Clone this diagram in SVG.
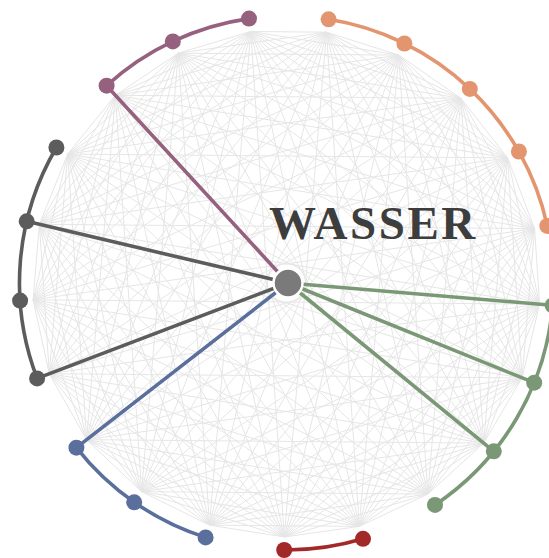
<svg xmlns="http://www.w3.org/2000/svg" width="549" height="558" viewBox="0 0 549 558">
<style>
.mesh{fill:none;stroke:#e6e6e6;stroke-width:1;stroke-linejoin:round}
.red{stroke:#a32828;fill:#a32828}
.blue{stroke:#5b6f9c;fill:#5b6f9c}
.gray{stroke:#5c5c5c;fill:#5c5c5c}
.purple{stroke:#95617f;fill:#95617f}
.orange{stroke:#e3956f;fill:#e3956f}
.green{stroke:#7a9875;fill:#7a9875}
path.arc{fill:none;stroke-width:3.6;stroke-linecap:round}
line.spoke{stroke-width:3.6;stroke-linecap:round}
g.node circle{stroke:none}
.title{font-family:"Liberation Serif","Times New Roman",serif;font-weight:bold;font-size:47px;fill:#3d3d3d;letter-spacing:2.6px}
</style>
<rect width="549" height="558" fill="#ffffff"/>
<g id="mesh" class="mesh">
<path d="M284.3,537 L209.5,525.1 141.6,491.6 86.6,439.7 49.3,373.7 33.1,299.8 39.4,224.3 67.7,154.1 115.4,95.3 178.3,53.2 250.8,31.5 326.5,32.2 398.7,55.1 460.9,98.3 507.6,157.9 534.6,228.6 539.6,304.2 522.1,377.9 483.7,443.1 427.8,494.1 359.3,526.4Z"/>
<path d="M284.3,537 L141.6,491.6 49.3,373.7 39.4,224.3 115.4,95.3 250.8,31.5 398.7,55.1 507.6,157.9 539.6,304.2 483.7,443.1 359.3,526.4 209.5,525.1 86.6,439.7 33.1,299.8 67.7,154.1 178.3,53.2 326.5,32.2 460.9,98.3 534.6,228.6 522.1,377.9 427.8,494.1Z"/>
<path d="M284.3,537 L86.6,439.7 39.4,224.3 178.3,53.2 398.7,55.1 534.6,228.6 483.7,443.1Z M209.5,525.1 L49.3,373.7 67.7,154.1 250.8,31.5 460.9,98.3 539.6,304.2 427.8,494.1Z M141.6,491.6 L33.1,299.8 115.4,95.3 326.5,32.2 507.6,157.9 522.1,377.9 359.3,526.4Z"/>
<path d="M284.3,537 L49.3,373.7 115.4,95.3 398.7,55.1 539.6,304.2 359.3,526.4 86.6,439.7 67.7,154.1 326.5,32.2 534.6,228.6 427.8,494.1 141.6,491.6 39.4,224.3 250.8,31.5 507.6,157.9 483.7,443.1 209.5,525.1 33.1,299.8 178.3,53.2 460.9,98.3 522.1,377.9Z"/>
<path d="M284.3,537 L33.1,299.8 250.8,31.5 534.6,228.6 359.3,526.4 49.3,373.7 178.3,53.2 507.6,157.9 427.8,494.1 86.6,439.7 115.4,95.3 460.9,98.3 483.7,443.1 141.6,491.6 67.7,154.1 398.7,55.1 522.1,377.9 209.5,525.1 39.4,224.3 326.5,32.2 539.6,304.2Z"/>
<path d="M284.3,537 L39.4,224.3 398.7,55.1 483.7,443.1 86.6,439.7 178.3,53.2 534.6,228.6Z M209.5,525.1 L67.7,154.1 460.9,98.3 427.8,494.1 49.3,373.7 250.8,31.5 539.6,304.2Z M141.6,491.6 L115.4,95.3 507.6,157.9 359.3,526.4 33.1,299.8 326.5,32.2 522.1,377.9Z"/>
<path d="M284.3,537 L67.7,154.1 507.6,157.9Z M209.5,525.1 L115.4,95.3 534.6,228.6Z M141.6,491.6 L178.3,53.2 539.6,304.2Z M86.6,439.7 L250.8,31.5 522.1,377.9Z M49.3,373.7 L326.5,32.2 483.7,443.1Z M33.1,299.8 L398.7,55.1 427.8,494.1Z M39.4,224.3 L460.9,98.3 359.3,526.4Z"/>
<path d="M284.3,537 L115.4,95.3 539.6,304.2 86.6,439.7 326.5,32.2 427.8,494.1 39.4,224.3 507.6,157.9 209.5,525.1 178.3,53.2 522.1,377.9 49.3,373.7 398.7,55.1 359.3,526.4 67.7,154.1 534.6,228.6 141.6,491.6 250.8,31.5 483.7,443.1 33.1,299.8 460.9,98.3Z"/>
<path d="M284.3,537 L178.3,53.2 483.7,443.1 39.4,224.3 534.6,228.6 86.6,439.7 398.7,55.1Z M209.5,525.1 L250.8,31.5 427.8,494.1 67.7,154.1 539.6,304.2 49.3,373.7 460.9,98.3Z M141.6,491.6 L326.5,32.2 359.3,526.4 115.4,95.3 522.1,377.9 33.1,299.8 507.6,157.9Z"/>
<path d="M284.3,537 L250.8,31.5 359.3,526.4 178.3,53.2 427.8,494.1 115.4,95.3 483.7,443.1 67.7,154.1 522.1,377.9 39.4,224.3 539.6,304.2 33.1,299.8 534.6,228.6 49.3,373.7 507.6,157.9 86.6,439.7 460.9,98.3 141.6,491.6 398.7,55.1 209.5,525.1 326.5,32.2Z"/>
</g>
<text id="title" class="title" x="269" y="239">WASSER</text>
<g id="connectors">
<path class="arc red" d="M363,538.8 A267,267 0 0 1 284.2,550"/>
<path class="arc blue" d="M205.6,537.4 A267,267 0 0 1 76.4,447.7"/>
<path class="arc gray" d="M37.1,378.4 A267,267 0 0 1 56.4,147.5"/>
<path class="arc purple" d="M106.6,85.7 A267,267 0 0 1 249,18.6"/>
<path class="arc orange" d="M328.6,19.3 A267,267 0 0 1 547.3,225.9"/>
<path class="arc green" d="M552.6,305.3 A267,267 0 0 1 435,504.9"/>
<line class="spoke blue" x1="288" y1="283" x2="76.4" y2="447.7"/>
<line class="spoke gray" x1="288" y1="283" x2="37.1" y2="378.4"/>
<line class="spoke gray" x1="288" y1="283" x2="26.7" y2="221.3"/>
<line class="spoke purple" x1="288" y1="283" x2="106.6" y2="85.7"/>
<line class="spoke green" x1="288" y1="283" x2="552.6" y2="305.3"/>
<line class="spoke green" x1="288" y1="283" x2="534.2" y2="382.7"/>
<line class="spoke green" x1="288" y1="283" x2="493.8" y2="451.3"/>
</g>
<g id="n0" class="node red"><circle cx="284.2" cy="550" r="8"/></g>
<g id="n1" class="node blue"><circle cx="205.6" cy="537.4" r="8"/></g>
<g id="n2" class="node blue"><circle cx="134.2" cy="502.3" r="8"/></g>
<g id="n3" class="node blue"><circle cx="76.4" cy="447.7" r="8"/></g>
<g id="n4" class="node gray"><circle cx="37.1" cy="378.4" r="8"/></g>
<g id="n5" class="node gray"><circle cx="20.1" cy="300.6" r="8"/></g>
<g id="n6" class="node gray"><circle cx="26.7" cy="221.3" r="8"/></g>
<g id="n7" class="node gray"><circle cx="56.4" cy="147.5" r="8"/></g>
<g id="n8" class="node purple"><circle cx="106.6" cy="85.7" r="8"/></g>
<g id="n9" class="node purple"><circle cx="172.8" cy="41.4" r="8"/></g>
<g id="n10" class="node purple"><circle cx="249" cy="18.6" r="8"/></g>
<g id="n11" class="node orange"><circle cx="328.6" cy="19.3" r="8"/></g>
<g id="n12" class="node orange"><circle cx="404.4" cy="43.5" r="8"/></g>
<g id="n13" class="node orange"><circle cx="469.8" cy="88.9" r="8"/></g>
<g id="n14" class="node orange"><circle cx="518.9" cy="151.5" r="8"/></g>
<g id="n15" class="node orange"><circle cx="547.3" cy="225.9" r="8"/></g>
<g id="n16" class="node green"><circle cx="552.6" cy="305.3" r="8"/></g>
<g id="n17" class="node green"><circle cx="534.2" cy="382.7" r="8"/></g>
<g id="n18" class="node green"><circle cx="493.8" cy="451.3" r="8"/></g>
<g id="n19" class="node green"><circle cx="435" cy="504.9" r="8"/></g>
<g id="n20" class="node red"><circle cx="363" cy="538.8" r="8"/></g>
<g id="center"><circle cx="288" cy="283" r="14.5" fill="#7a7a7a" stroke="#ffffff" stroke-width="2.5"/></g>
</svg>
